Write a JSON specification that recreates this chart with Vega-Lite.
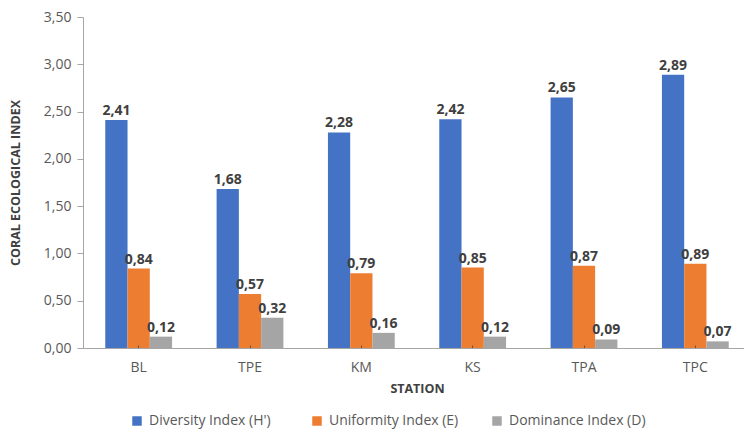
{
  "$schema": "https://vega.github.io/schema/vega-lite/v6.json",
  "autosize": "none",
  "width": 668,
  "height": 331,
  "padding": {"left": 83, "top": 17, "right": 0, "bottom": 84},
  "background": "white",
  "config": {
    "locale": {"number": {"decimal": ",", "thousands": ".", "grouping": [3], "currency": ["", ""]}},
    "view": {"stroke": null},
    "font": "Open Sans",
    "axis": {"grid": false, "domainColor": "#A6A6A6", "tickColor": "#A6A6A6", "labelColor": "#595959", "labelFontSize": 14, "titleColor": "#404040", "titleFontSize": 12.5, "titleFontWeight": "bold", "labelFont": "Open Sans", "titleFont": "Open Sans"}
  },
  "data": {
    "values": [
      {"station": "BL", "index": "Diversity Index (H')", "value": 2.41},
      {"station": "BL", "index": "Uniformity Index (E)", "value": 0.84},
      {"station": "BL", "index": "Dominance Index (D)", "value": 0.12},
      {"station": "TPE", "index": "Diversity Index (H')", "value": 1.68},
      {"station": "TPE", "index": "Uniformity Index (E)", "value": 0.57},
      {"station": "TPE", "index": "Dominance Index (D)", "value": 0.32},
      {"station": "KM", "index": "Diversity Index (H')", "value": 2.28},
      {"station": "KM", "index": "Uniformity Index (E)", "value": 0.79},
      {"station": "KM", "index": "Dominance Index (D)", "value": 0.16},
      {"station": "KS", "index": "Diversity Index (H')", "value": 2.42},
      {"station": "KS", "index": "Uniformity Index (E)", "value": 0.85},
      {"station": "KS", "index": "Dominance Index (D)", "value": 0.12},
      {"station": "TPA", "index": "Diversity Index (H')", "value": 2.65},
      {"station": "TPA", "index": "Uniformity Index (E)", "value": 0.87},
      {"station": "TPA", "index": "Dominance Index (D)", "value": 0.09},
      {"station": "TPC", "index": "Diversity Index (H')", "value": 2.89},
      {"station": "TPC", "index": "Uniformity Index (E)", "value": 0.89},
      {"station": "TPC", "index": "Dominance Index (D)", "value": 0.07}
    ]
  },
  "encoding": {
    "x": {
      "field": "station", "type": "nominal", "sort": ["BL", "TPE", "KM", "KS", "TPA", "TPC"],
      "scale": {"paddingInner": 0.4, "paddingOuter": 0.2},
      "axis": {"title": "STATION", "labelAngle": 0, "labelPadding": 15, "tickSize": -3, "tickColor": "#595959", "zindex": 1, "titlePadding": 8}
    },
    "xOffset": {"field": "index", "type": "nominal", "sort": ["Diversity Index (H')", "Uniformity Index (E)", "Dominance Index (D)"], "scale": {"paddingInner": 0, "paddingOuter": 0}},
    "y": {
      "field": "value", "type": "quantitative",
      "scale": {"domain": [0, 3.5], "nice": false},
      "axis": {"title": "CORAL ECOLOGICAL INDEX", "values": [0, 0.5, 1, 1.5, 2, 2.5, 3, 3.5], "format": ".2f", "tickSize": 6, "labelPadding": 6, "titleX": -61}
    }
  },
  "layer": [
    {
      "mark": {"type": "bar"},
      "encoding": {
        "color": {
          "field": "index", "type": "nominal",
          "sort": ["Diversity Index (H')", "Uniformity Index (E)", "Dominance Index (D)"],
          "scale": {"domain": ["Diversity Index (H')", "Uniformity Index (E)", "Dominance Index (D)"], "range": ["#4472C4", "#ED7D31", "#A5A5A5"]},
          "legend": {"title": null, "orient": "none", "direction": "horizontal", "columns": 3, "gridAlign": "all", "legendX": 47, "legendY": 397, "symbolType": "square", "symbolSize": 90, "symbolStrokeWidth": 0, "columnPadding": 24, "labelFontSize": 14, "labelColor": "#595959", "labelFont": "Open Sans", "labelOffset": 5, "labelLimit": 220}
        }
      }
    },
    {
      "mark": {"type": "text", "baseline": "bottom", "dy": -2, "fontWeight": "bold", "fontSize": 14, "color": "#404040", "font": "Open Sans"},
      "encoding": {
        "text": {"field": "value", "type": "quantitative", "format": ".2f"}
      }
    }
  ]
}
